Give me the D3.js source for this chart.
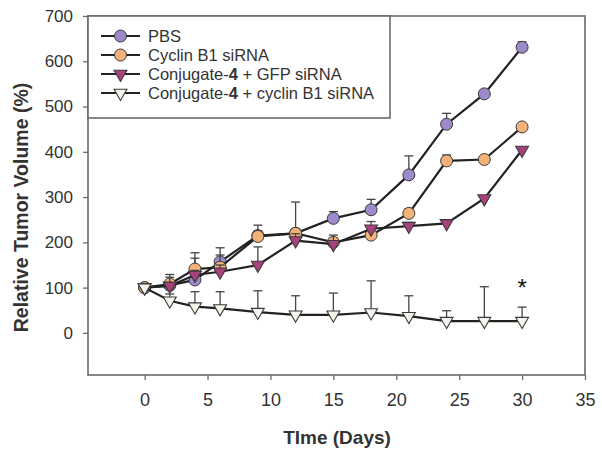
<!DOCTYPE html>
<html><head><meta charset="utf-8">
<script src="https://cdn.jsdelivr.net/npm/d3@7"></script>
<style>body{margin:0;background:#fff}svg{display:block;font-family:Arial,"Liberation Sans",sans-serif}</style>
</head><body><svg id="c" width="602" height="457"></svg>
<script>
const days = [0, 2, 4, 6, 9, 12, 15, 18, 21, 24, 27, 30];
const pbs = [100, 105, 117, 157, 215, 220, 253, 272, 349, 461, 528, 631];
const pbsErr = [0, 10, 48, 31, 10, 10, 15, 23, 42, 24, 5, 12];
const cyclin = [100, 108, 141, 145, 213, 220, 200, 216, 264, 380, 383, 455];
const cyclinErr = [0, 15, 36, 27, 25, 69, 10, 10, 10, 13, 5, 5];
const conjGfp = [100, 104, 128, 135, 150, 204, 196, 230, 236, 242, 297, 404];
const conjGfpErr = [0, 25, 10, 15, 40, 15, 20, 16, 8, 5, 5, 5];
const conjCyclin = [100, 71, 58, 54, 46, 40, 40, 45, 37, 26, 26, 26];
const conjCyclinErr = [0, 15, 33, 37, 47, 42, 48, 70, 45, 23, 76, 31];
const xTicks = [0, 5, 10, 15, 20, 25, 30, 35];
const yTicks = [0, 100, 200, 300, 400, 500, 600, 700];
const seriesNames = ["PBS", "Cyclin B1 siRNA", "Conjugate-4 + GFP siRNA", "Conjugate-4 + cyclin B1 siRNA"];

const series = [
  {name: seriesNames[0], v: pbs, e: pbsErr, fill: "#9c8acb", shape: "circle"},
  {name: seriesNames[1], v: cyclin, e: cyclinErr, fill: "#f3b27a", shape: "circle"},
  {name: seriesNames[2], v: conjGfp, e: conjGfpErr, fill: "#a9427c", shape: "tri"},
  {name: seriesNames[3], v: conjCyclin, e: conjCyclinErr, fill: "#f3f5ec", shape: "tri"}
];

const svg = d3.select("#c");
const L = 88, R = 585, T = 16, B = 375;
const x = d3.scaleLinear().domain([-4.5, 35]).range([L, R]);
const y = d3.scaleLinear().domain([-93, 700]).range([B, T]);
const axisCol = "#6a6a6a", textCol = "#333";

// frame
svg.append("rect").attr("x", L).attr("y", T).attr("width", R - L).attr("height", B - T)
  .attr("fill", "none").attr("stroke", axisCol).attr("stroke-width", 1.6);

// axes
const xa = svg.append("g").attr("transform", `translate(0,${B})`)
  .call(d3.axisBottom(x).tickValues(xTicks).tickSize(5).tickPadding(13));
const ya = svg.append("g").attr("transform", `translate(${L},0)`)
  .call(d3.axisLeft(y).tickValues(yTicks).tickSize(5).tickPadding(10));
[xa, ya].forEach(a => {
  a.select(".domain").remove();
  a.selectAll("line").attr("stroke", axisCol).attr("stroke-width", 1.3);
  a.selectAll("text").attr("fill", textCol).attr("font-family", "Arial, 'Liberation Sans', sans-serif");
});
xa.selectAll("text").attr("font-size", 18);
ya.selectAll("text").attr("font-size", 17);

// titles
svg.append("text").attr("x", 337).attr("y", 444).attr("text-anchor", "middle")
  .attr("font-size", 19).attr("font-weight", "bold").attr("fill", textCol).text("TIme (Days)");
svg.append("text").attr("transform", `translate(28,${(T + B) / 2 + 12}) rotate(-90)`).attr("text-anchor", "middle")
  .attr("font-size", 19.5).attr("font-weight", "bold").attr("fill", textCol).text("Relative Tumor Volume (%)");

const tri = d3.symbol().type(d3.symbolTriangle).size(72);
function marker(g, s) {
  if (s.shape === "circle") {
    g.append("circle").attr("r", 6).attr("fill", s.fill).attr("stroke", "#3a3a3a").attr("stroke-width", 1);
  } else {
    g.append("path").attr("d", tri).attr("transform", "rotate(180)").attr("fill", s.fill)
      .attr("stroke", "#3a3a3a").attr("stroke-width", 1.1);
  }
}

const line = d3.line().x(d => x(d[0])).y(d => y(d[1]));
series.forEach(s => {
  const pts = days.map((d, i) => [d, s.v[i], s.e[i]]);
  const g = svg.append("g");
  // error bars (upper)
  pts.filter(p => p[2] > 0).forEach(p => {
    g.append("line").attr("x1", x(p[0])).attr("x2", x(p[0])).attr("y1", y(p[1])).attr("y2", y(p[1] + p[2]))
      .attr("stroke", "#444").attr("stroke-width", 1.3);
    g.append("line").attr("x1", x(p[0]) - 4.5).attr("x2", x(p[0]) + 4.5).attr("y1", y(p[1] + p[2])).attr("y2", y(p[1] + p[2]))
      .attr("stroke", "#444").attr("stroke-width", 1.3);
  });
  g.append("path").attr("d", line(pts)).attr("fill", "none").attr("stroke", "#222").attr("stroke-width", 2.2);
  pts.forEach(p => {
    const m = g.append("g").attr("transform", `translate(${x(p[0])},${y(p[1])})`);
    marker(m, s);
  });
});

// asterisk
svg.append("text").attr("x", x(30)).attr("y", y(82)).attr("text-anchor", "middle")
  .attr("font-size", 24).attr("fill", "#111").text("*");

// legend
const lg = svg.append("g");
lg.append("rect").attr("x", L).attr("y", T).attr("width", 302).attr("height", 102)
  .attr("fill", "#fff").attr("stroke", axisCol).attr("stroke-width", 1.6);
series.forEach((s, i) => {
  const yy = 36 + i * 19;
  lg.append("line").attr("x1", 101).attr("x2", 140).attr("y1", yy).attr("y2", yy).attr("stroke", "#222").attr("stroke-width", 2.2);
  const m = lg.append("g").attr("transform", `translate(120.5,${yy})`);
  marker(m, s);
  const t = lg.append("text").attr("x", 148).attr("y", yy + 6).attr("font-size", 16.5).attr("fill", textCol);
  if (s.name.startsWith("Conjugate-4")) {
    t.append("tspan").text("Conjugate-");
    t.append("tspan").attr("font-weight", "bold").text("4");
    t.append("tspan").text(s.name.slice("Conjugate-4".length));
  } else {
    t.text(s.name);
  }
});
</script></body></html>
